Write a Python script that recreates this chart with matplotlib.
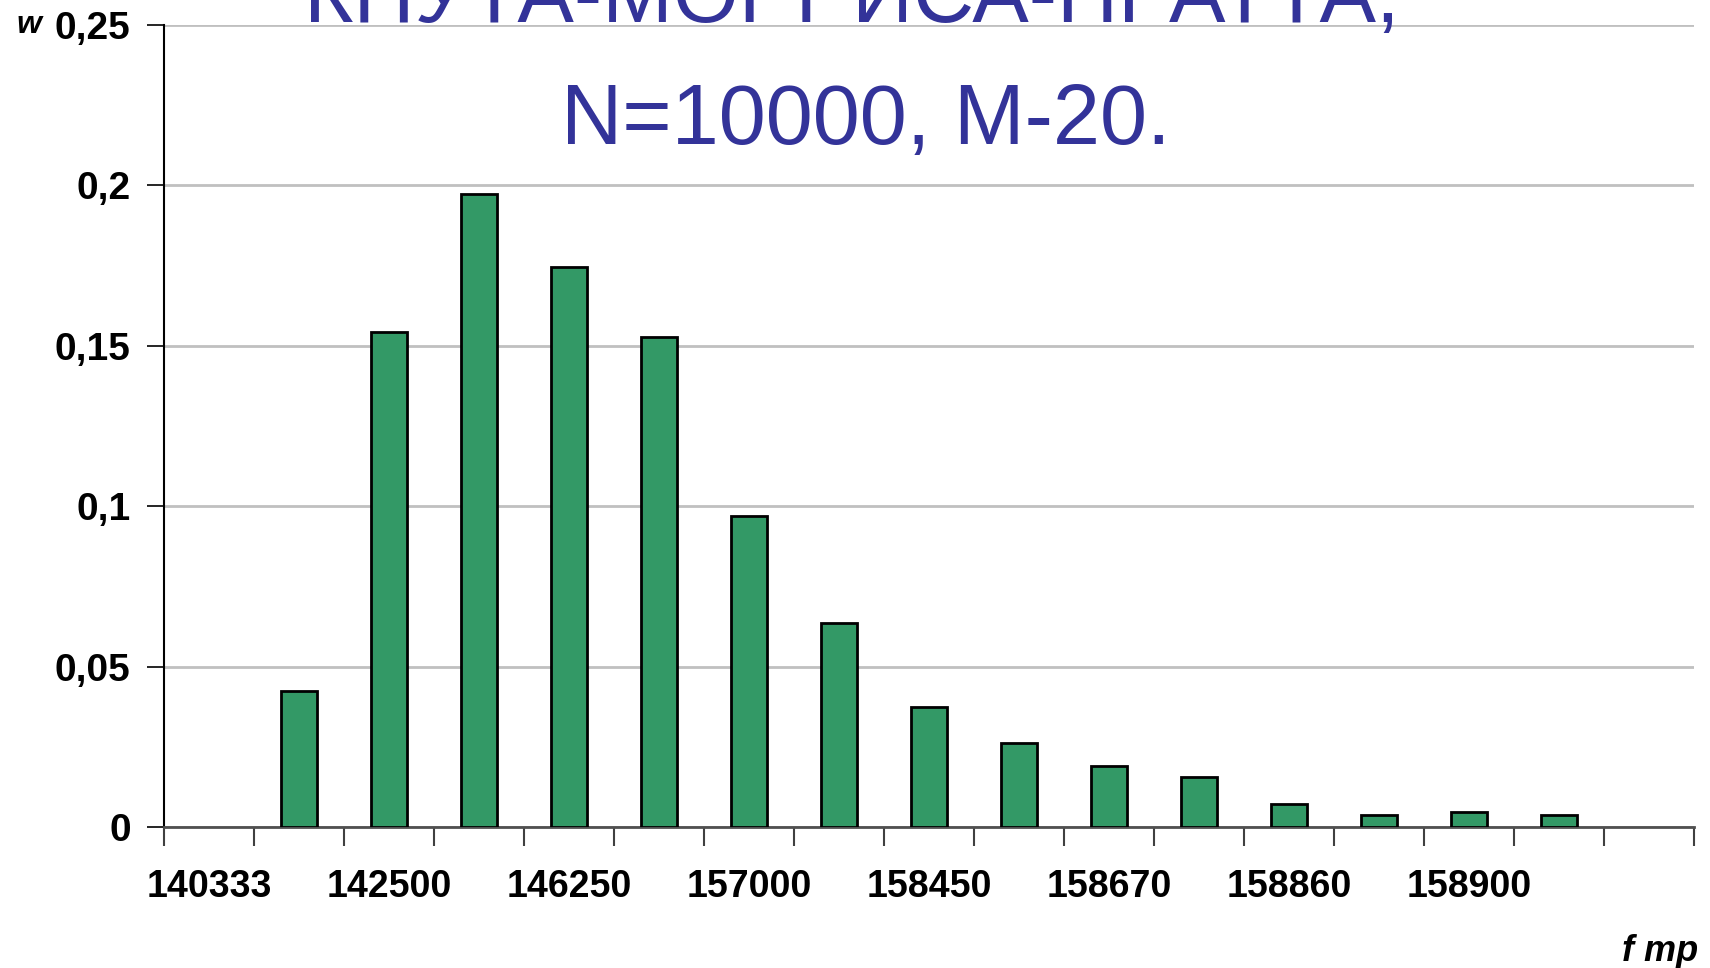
'''
Histogram of the relative frequency w of f_mp values (KMP algorithm, N=10000, M-20).
'''
import numpy as np
import matplotlib.pyplot as plt
from matplotlib import font_manager
from matplotlib.ticker import FixedLocator, FuncFormatter

# Data
title_lines = ["КНУТА-МОРРИСА-ПРАТТА,", "N=10000, M-20."]
shown_labels = ["140333", "142500", "146250", "157000",
                "158450", "158670", "158860", "158900"]
w_values = [0.0, 0.0424, 0.1544, 0.1973, 0.1747, 0.1527, 0.0970, 0.0636,
            0.0375, 0.0263, 0.0189, 0.0155, 0.0073, 0.0037, 0.0046, 0.0037, 0.0]
y_ticks = [0.0, 0.05, 0.1, 0.15, 0.2, 0.25]

# Fonts: use a narrow face for the category labels when present
names = {f.name for f in font_manager.fontManager.ttflist}
narrow = "Liberation Sans Narrow" if "Liberation Sans Narrow" in names else "Liberation Sans"
narrow_size = 31 if narrow == "Liberation Sans Narrow" else 27

plt.rcParams['font.family'] = ['Liberation Sans', 'DejaVu Sans']

fig = plt.figure(figsize=(17.1, 9.68), dpi=100)
ax = fig.add_axes([164 / 1710, 141 / 968, 1530 / 1710, 802 / 968])

n = len(w_values)
x = np.arange(n)
w = np.array(w_values)
nz = w > 0  # empty classes get no bar outline
ax.bar(x[nz], w[nz], width=0.4, color="#339966", edgecolor="black", linewidth=2.0, zorder=3)

ax.set_xlim(-0.5, n - 0.5)
ax.set_ylim(0, 0.25)

# y axis
ax.yaxis.set_major_locator(FixedLocator(y_ticks))
ax.yaxis.set_major_formatter(FuncFormatter(lambda v, p: ("%g" % v).replace(".", ",")))
ax.grid(axis="y", color="#c0c0c0", lw=2.0, zorder=0)
ax.tick_params(axis="y", length=12, width=1.2, pad=12, labelsize=28)
for lab in ax.get_yticklabels():
    lab.set_fontweight("bold")

# x axis: ticks between categories, labels on every other category
ax.xaxis.set_major_locator(FixedLocator(np.arange(n + 1) - 0.5))
ax.xaxis.set_major_formatter(FuncFormatter(lambda v, p: ""))
ax.xaxis.set_minor_locator(FixedLocator(np.arange(len(shown_labels)) * 2))
ax.set_xticklabels(shown_labels, minor=True, fontfamily=narrow,
                   fontsize=narrow_size, fontweight="bold")
ax.tick_params(axis="x", which="major", length=14, width=1.5, color="#404040")
ax.tick_params(axis="x", which="minor", length=0, pad=30)

for side in ["top", "right"]:
    ax.spines[side].set_visible(False)
ax.spines["left"].set_linewidth(1.5)
ax.spines["left"].set_color("black")
ax.spines["bottom"].set_linewidth(2.0)
ax.spines["bottom"].set_color("#505050")

# Axis names
fig.text(16 / 1710, 1 - 33 / 968, "w", fontsize=23, fontweight="bold",
         fontstyle="italic", va="baseline", ha="left")
fig.text(1698 / 1710, 1 - 961 / 968, "f mp", fontsize=26, fontweight="bold",
         fontstyle="italic", va="baseline", ha="right")

# Title, first line runs off the top of the picture
fig.text(852 / 1710, 1 - 22 / 968, title_lines[0], fontsize=61, color="#333399",
         ha="center", va="baseline")
fig.text(866 / 1710, 1 - 144 / 968, title_lines[1], fontsize=61, color="#333399",
         ha="center", va="baseline")

plt.savefig("out.png", dpi=100)
plt.close()
